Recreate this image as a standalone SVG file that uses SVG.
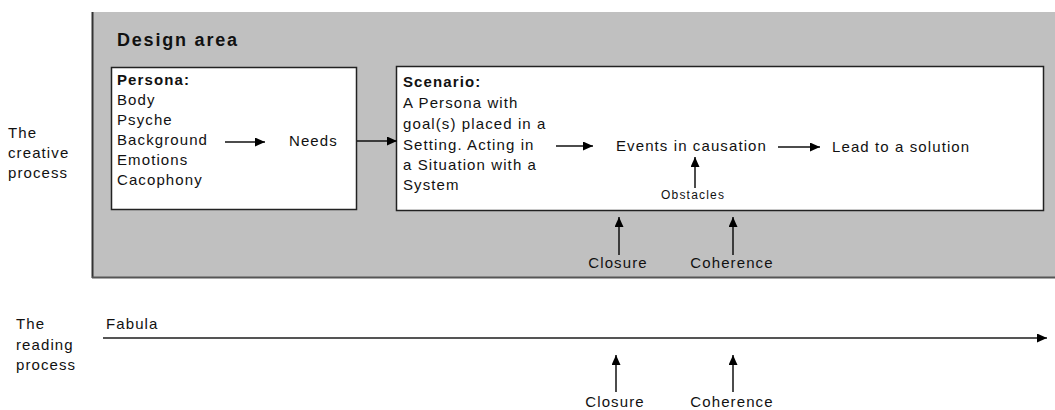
<svg xmlns="http://www.w3.org/2000/svg" width="1055" height="410" viewBox="0 0 1055 410">
<style>
  text { font-family: "Liberation Sans", Arial, sans-serif; fill: #111; }
  .t { font-size: 15px; letter-spacing: 1.1px; }
  .b { font-size: 15px; font-weight: bold; letter-spacing: 1.1px; }
  .h { font-size: 18px; font-weight: bold; letter-spacing: 1.8px; }
  .s { font-size: 12px; letter-spacing: 1.2px; }
  .m { text-anchor: middle; }
  .box { fill: #fff; stroke: #222; stroke-width: 1.5; }
  .c { stroke: #111; stroke-width: 1.5; fill: none; marker-end: url(#ah); }
  .fab { stroke: #555; stroke-width: 2; fill: none; marker-end: url(#ah); }
</style>
<defs>
  <marker id="ah" markerUnits="userSpaceOnUse" markerWidth="11" markerHeight="9" refX="10" refY="4.5" orient="auto">
    <path d="M0,0 L10,4.5 L0,9 z" fill="#000"/>
  </marker>
</defs>
<rect width="1055" height="410" fill="#fff"/>
<g id="design-area">
  <rect x="92" y="12" width="963" height="266" fill="#c0c0c0"/>
  <line x1="92.5" y1="12" x2="92.5" y2="278" stroke="#333" stroke-width="2"/>
  <line x1="92" y1="277.5" x2="1055" y2="277.5" stroke="#555" stroke-width="2"/>
  <text class="h" x="117" y="46">Design area</text>
</g>
<g id="labels-left">
  <text class="t" x="8" y="138">The</text>
  <text class="t" x="8" y="158">creative</text>
  <text class="t" x="8" y="178">process</text>
  <text class="t" x="16" y="329">The</text>
  <text class="t" x="16" y="350">reading</text>
  <text class="t" x="16" y="370">process</text>
</g>
<g id="persona">
  <rect class="box" x="111.5" y="67.5" width="245" height="142"/>
  <text class="b" x="117" y="85">Persona:</text>
  <text class="t" x="117" y="105">Body</text>
  <text class="t" x="117" y="125">Psyche</text>
  <text class="t" x="117" y="145">Background</text>
  <text class="t" x="117" y="165">Emotions</text>
  <text class="t" x="117" y="185">Cacophony</text>
</g>
<g id="needs">
  <text class="t" x="289" y="146">Needs</text>
</g>
<g id="scenario">
  <rect class="box" x="396.5" y="66.5" width="647" height="144"/>
  <text class="b" x="403" y="87">Scenario:</text>
  <text class="t" x="403" y="108">A Persona with</text>
  <text class="t" x="403" y="129">goal(s) placed in a</text>
  <text class="t" x="403" y="150">Setting. Acting in</text>
  <text class="t" x="403" y="170">a Situation with a</text>
  <text class="t" x="403" y="190">System</text>
</g>
<g id="events">
  <text class="t" x="616" y="151">Events in causation</text>
</g>
<g id="lead">
  <text class="t" x="832" y="152">Lead to a solution</text>
</g>
<g id="obstacles">
  <text class="s" x="661" y="199">Obstacles</text>
</g>
<g id="closure-top"><text class="t m" x="618" y="268">Closure</text></g>
<g id="coherence-top"><text class="t m" x="732" y="268">Coherence</text></g>
<g id="fabula"><text class="t" x="106" y="329">Fabula</text></g>
<g id="closure-bottom"><text class="t m" x="615" y="407">Closure</text></g>
<g id="coherence-bottom"><text class="t m" x="732" y="407">Coherence</text></g>
<g id="connectors">
  <line class="c" x1="225" y1="142" x2="265" y2="142"/>
  <line class="c" x1="357" y1="141" x2="397" y2="141"/>
  <line class="c" x1="556" y1="146" x2="593" y2="146"/>
  <line class="c" x1="778" y1="147" x2="820" y2="147"/>
  <line class="c" x1="695" y1="188" x2="695" y2="157"/>
  <line class="c" x1="619" y1="255" x2="619" y2="217"/>
  <line class="c" x1="733" y1="255" x2="733" y2="217"/>
  <line class="c" x1="616" y1="392" x2="616" y2="355"/>
  <line class="c" x1="733" y1="392" x2="733" y2="355"/>
  <line class="fab" x1="103" y1="338" x2="1047" y2="338"/>
</g>
</svg>
